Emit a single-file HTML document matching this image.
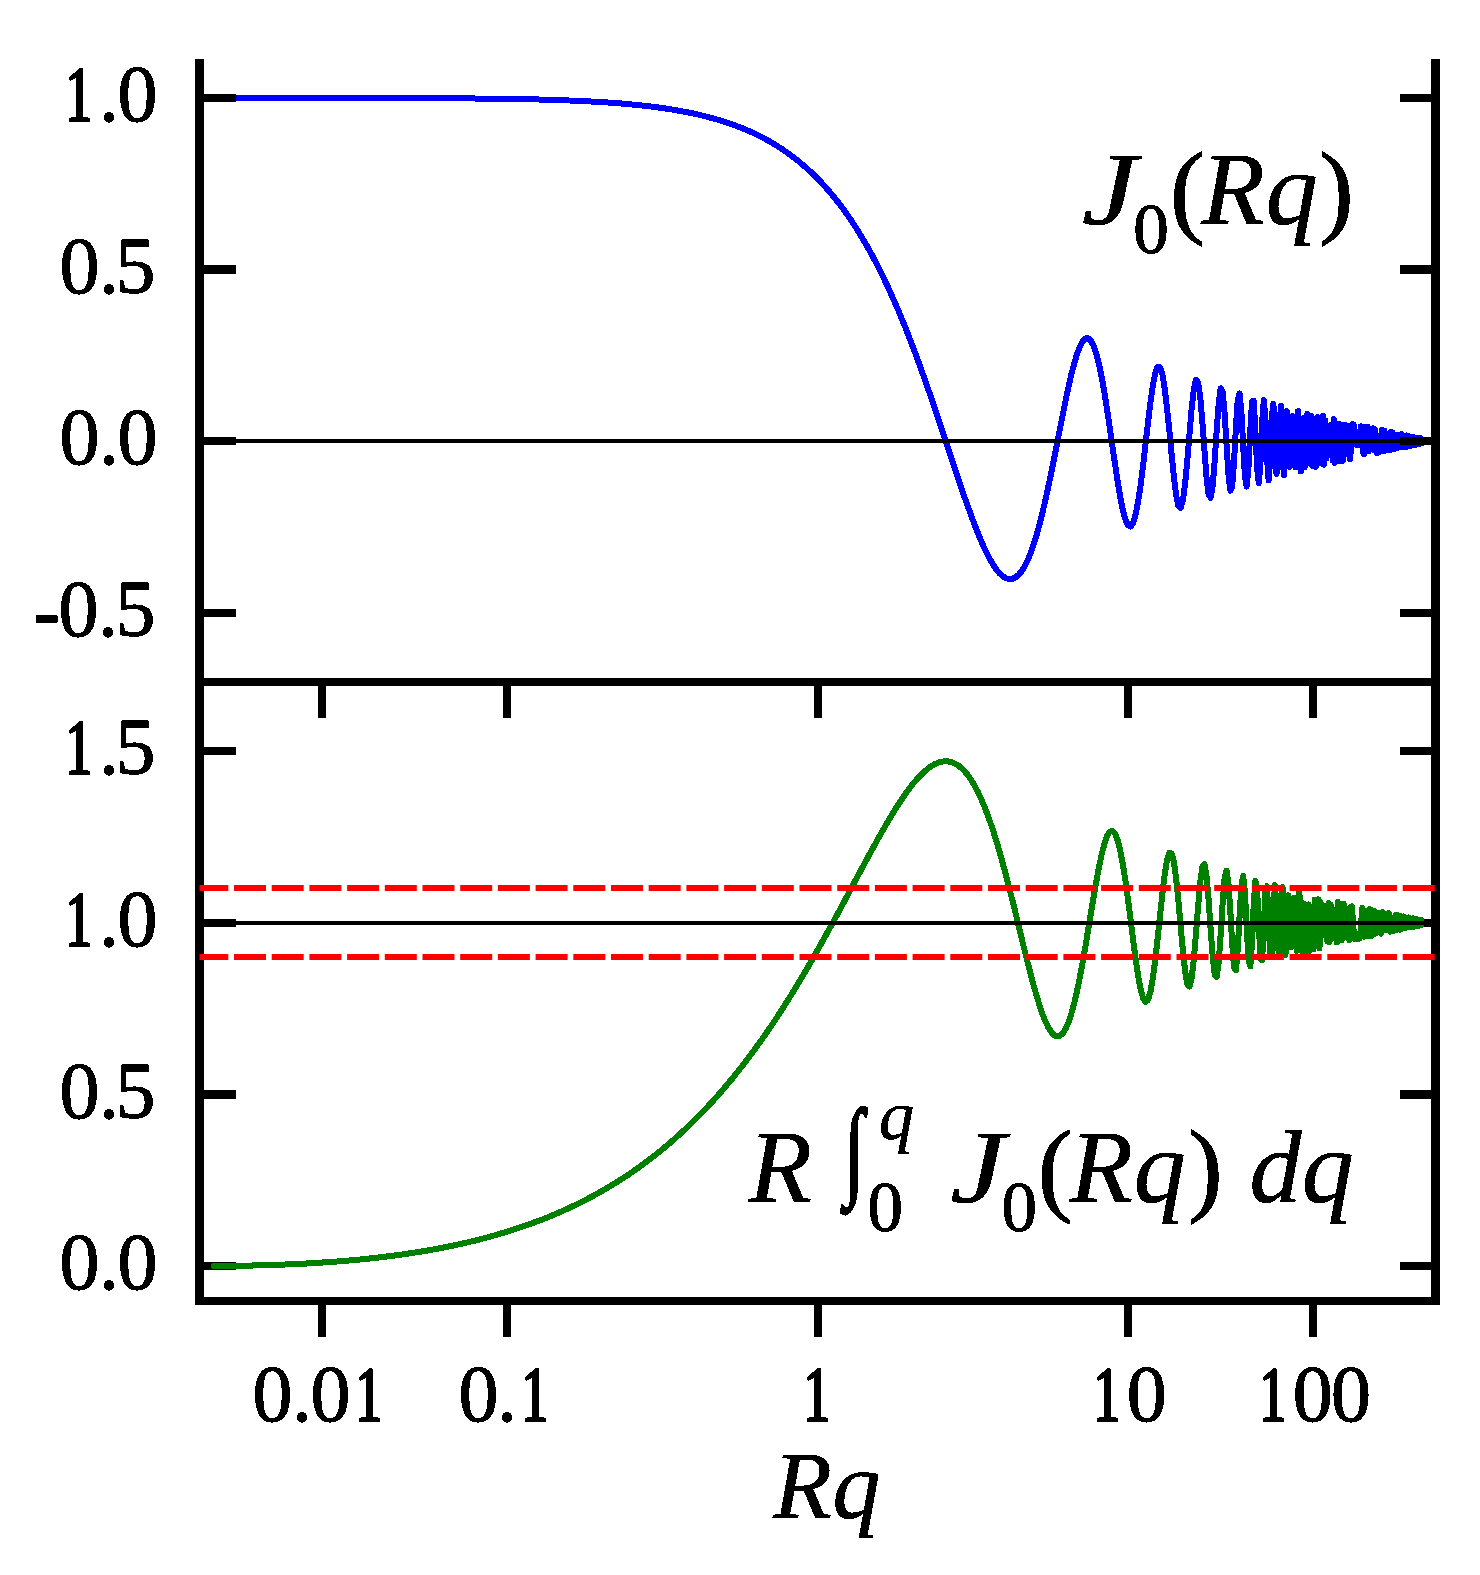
<!DOCTYPE html>
<html><head><meta charset="utf-8"><title>J0(Rq) and its integral</title>
<style>
html,body{margin:0;padding:0;background:#fff;}
svg{display:block;}
text{font-family:"Liberation Serif",serif;font-size:80px;fill:#000;stroke:#000;stroke-width:1.0px;stroke-linejoin:round;}
</style></head><body>
<svg width="1480" height="1575" viewBox="0 0 1480 1575">
<rect width="1480" height="1575" fill="#fff"/>
<defs>
<filter id="bw" x="0" y="0" width="1480" height="1575" filterUnits="userSpaceOnUse" color-interpolation-filters="sRGB"><feComponentTransfer><feFuncA type="discrete" tableValues="0 0 1 1 1"/></feComponentTransfer></filter>
<clipPath id="c1"><rect x="199.5" y="59" width="1236" height="623"/></clipPath>
<clipPath id="c2"><rect x="199.5" y="682" width="1236" height="619"/></clipPath>
</defs>
<!-- top panel: J0 -->
<g clip-path="url(#c1)">
<path d="M213.8 98.0L213.9 98.0L214.1 98.0L214.3 98.0L214.4 98.0L214.6 98.0L214.8 98.0L214.9 98.0L215.1 98.0L215.3 98.0L215.5 98.0L215.6 98.0L215.8 98.0L216.0 98.0L216.2 98.0L216.4 98.0L216.6 98.0L216.8 98.0L217.0 98.0L217.2 98.0L217.4 98.0L217.6 98.0L217.8 98.0L218.0 98.0L218.2 98.0L218.4 98.0L218.6 98.0L218.8 98.0L219.0 98.0L219.2 98.0L219.5 98.0L219.7 98.0L219.9 98.0L220.1 98.0L220.4 98.0L220.6 98.0L220.8 98.0L221.1 98.0L221.3 98.0L221.6 98.0L221.8 98.0L222.1 98.0L222.3 98.0L222.6 98.0L222.8 98.0L223.1 98.0L223.3 98.0L223.6 98.0L223.9 98.0L224.1 98.0L224.4 98.0L224.7 98.0L225.0 98.0L225.3 98.0L225.5 98.0L225.8 98.0L226.1 98.0L226.4 98.0L226.7 98.0L227.0 98.0L227.3 98.0L227.6 98.0L227.9 98.0L228.2 98.0L228.6 98.0L228.9 98.0L229.2 98.0L229.5 98.0L229.9 98.0L230.2 98.0L230.5 98.0L230.9 98.0L231.2 98.0L231.6 98.0L231.9 98.0L232.3 98.0L232.6 98.0L233.0 98.0L233.4 98.0L233.7 98.0L234.1 98.0L234.5 98.0L234.9 98.0L235.3 98.0L235.7 98.0L236.0 98.0L236.4 98.0L236.8 98.0L237.3 98.0L237.7 98.0L238.1 98.0L238.5 98.0L238.9 98.0L239.4 98.0L239.8 98.0L240.2 98.0L240.7 98.0L241.1 98.0L241.6 98.0L242.0 98.0L242.5 98.0L243.0 98.0L243.4 98.0L243.9 98.0L244.4 98.0L244.9 98.0L245.4 98.0L245.8 98.0L246.3 98.0L246.9 98.0L247.4 98.0L247.9 98.0L248.4 98.0L248.9 98.0L249.5 98.0L250.0 98.0L250.5 98.0L251.1 98.0L251.6 98.0L252.2 98.0L252.8 98.0L253.3 98.0L253.9 98.0L254.5 98.0L255.1 98.0L255.7 98.0L256.3 98.0L256.9 98.0L257.5 98.0L258.1 98.0L258.7 98.0L259.4 98.0L260.0 98.0L260.6 98.0L261.3 98.0L262.0 98.0L262.6 98.0L263.3 98.0L264.0 98.0L264.6 98.0L265.3 98.0L266.0 98.0L266.7 98.0L267.4 98.0L268.2 98.0L268.9 98.0L269.6 98.0L270.4 98.0L271.1 98.0L271.9 98.0L272.6 98.0L273.4 98.0L274.2 98.0L274.9 98.0L275.7 98.0L276.5 98.0L277.3 98.0L278.2 98.0L279.0 98.0L279.8 98.0L280.6 98.0L281.5 98.0L282.3 98.0L283.2 98.0L284.1 98.0L285.0 98.0L285.8 98.0L286.7 98.0L287.6 98.0L288.6 98.0L289.5 98.0L290.4 98.0L291.3 98.0L292.3 98.0L293.3 98.0L294.2 98.0L295.2 98.0L296.2 98.0L297.2 98.0L298.2 98.0L299.2 98.0L300.2 98.0L301.2 98.0L302.3 98.0L303.3 98.0L304.4 98.0L305.5 98.0L306.5 98.0L307.6 98.0L308.7 98.0L309.8 98.0L311.0 98.0L312.1 98.0L313.2 98.0L314.4 98.0L315.5 98.0L316.7 98.0L317.9 98.0L319.1 98.0L320.3 98.0L321.5 98.0L322.7 98.0L323.9 98.0L325.2 98.0L326.4 98.0L327.7 98.0L329.0 98.0L330.3 98.0L331.6 98.0L332.9 98.0L334.2 98.0L335.6 98.0L336.9 98.0L338.3 98.0L339.6 98.0L341.0 98.0L342.4 98.0L343.8 98.0L345.2 98.0L346.7 98.0L348.1 98.0L349.6 98.0L351.0 98.0L352.5 98.0L354.0 98.0L355.5 98.0L357.0 98.0L358.5 98.0L360.1 98.0L361.6 98.0L363.2 98.0L364.8 98.0L366.4 98.0L368.0 98.0L369.6 98.0L371.2 98.0L372.9 98.0L374.5 98.0L376.2 98.0L377.9 98.1L379.6 98.1L381.3 98.1L383.0 98.1L384.7 98.1L386.5 98.1L388.3 98.1L390.0 98.1L391.8 98.1L393.6 98.1L395.4 98.1L397.3 98.1L399.1 98.1L401.0 98.1L402.8 98.1L404.7 98.1L406.6 98.1L408.5 98.1L410.5 98.1L412.4 98.1L414.4 98.1L416.3 98.1L418.3 98.1L420.3 98.1L422.3 98.2L424.4 98.2L426.4 98.2L428.5 98.2L430.5 98.2L432.6 98.2L434.7 98.2L436.8 98.2L439.0 98.2L441.1 98.2L443.3 98.2L445.4 98.3L447.6 98.3L449.8 98.3L452.0 98.3L454.3 98.3L456.5 98.3L458.8 98.3L461.0 98.4L463.3 98.4L465.6 98.4L468.0 98.4L470.3 98.4L472.6 98.4L475.0 98.5L477.4 98.5L479.8 98.5L482.2 98.5L484.6 98.6L487.0 98.6L489.5 98.6L491.9 98.7L494.4 98.7L496.9 98.7L499.4 98.7L501.9 98.8L504.4 98.8L507.0 98.9L509.5 98.9L512.1 98.9L514.7 99.0L517.3 99.0L519.9 99.1L522.6 99.1L525.2 99.2L527.9 99.2L530.5 99.3L533.2 99.4L535.9 99.4L538.6 99.5L541.4 99.6L544.1 99.6L546.9 99.7L549.6 99.8L552.4 99.9L555.2 100.0L558.0 100.1L560.8 100.2L563.7 100.3L566.5 100.4L569.4 100.5L572.2 100.6L575.1 100.7L578.0 100.8L580.9 101.0L583.8 101.1L586.8 101.3L589.7 101.4L592.7 101.6L595.6 101.7L598.6 101.9L601.6 102.1L604.6 102.3L607.6 102.5L610.7 102.7L613.7 102.9L616.8 103.1L619.8 103.4L622.9 103.6L626.0 103.9L629.1 104.2L632.2 104.5L635.3 104.8L638.4 105.1L641.5 105.4L644.7 105.8L647.8 106.1L651.0 106.5L654.2 106.9L657.3 107.3L660.5 107.8L663.7 108.2L666.9 108.7L670.2 109.2L673.4 109.7L676.6 110.3L679.9 110.9L683.1 111.5L686.4 112.1L689.6 112.7L692.9 113.4L696.2 114.1L699.5 114.9L702.8 115.7L706.1 116.5L709.4 117.4L712.7 118.3L716.0 119.2L719.3 120.2L722.7 121.2L726.0 122.3L729.3 123.4L732.7 124.6L736.0 125.8L739.4 127.1L742.8 128.4L746.1 129.8L749.5 131.3L752.9 132.8L756.2 134.4L759.6 136.1L763.0 137.8L766.4 139.6L769.8 141.5L773.2 143.5L776.6 145.6L780.0 147.8L783.4 150.0L786.8 152.4L790.2 154.8L793.6 157.4L797.0 160.0L800.4 162.8L803.8 165.7L807.3 168.7L810.7 171.9L814.1 175.1L817.5 178.5L820.9 182.1L824.3 185.8L827.7 189.6L831.2 193.6L834.6 197.8L838.0 202.1L841.4 206.5L844.8 211.2L848.2 216.0L851.6 221.0L855.0 226.2L858.4 231.6L861.8 237.2L865.2 242.9L868.6 248.9L872.0 255.1L875.4 261.5L878.8 268.0L882.1 274.8L885.5 281.8L888.9 289.1L892.2 296.5L895.6 304.1L899.0 312.0L902.3 320.1L905.7 328.3L909.0 336.8L912.3 345.4L915.7 354.3L919.0 363.3L922.3 372.4L925.6 381.8L928.9 391.2L932.2 400.8L935.5 410.5L938.8 420.3L942.1 430.1L945.4 439.9L948.6 449.8L951.9 459.6L955.1 469.4L958.4 479.0L961.6 488.6L964.8 497.9L968.1 507.0L971.3 515.9L974.5 524.4L977.7 532.5L980.8 540.2L984.0 547.3L987.2 554.0L990.3 559.9L993.5 565.2L996.6 569.8L999.7 573.5L1002.8 576.3L1005.9 578.2L1009.0 579.1L1012.1 578.9L1015.2 577.6L1018.2 575.2L1021.3 571.6L1024.3 566.8L1027.4 560.8L1030.4 553.5L1033.4 545.1L1036.4 535.5L1039.4 524.9L1042.3 513.2L1045.3 500.6L1048.2 487.2L1051.2 473.2L1054.1 458.7L1057.0 443.9L1059.9 429.1L1062.8 414.5L1065.6 400.3L1068.5 386.9L1071.3 374.6L1074.2 363.6L1077.0 354.2L1079.8 346.7L1082.6 341.4L1085.4 338.5L1088.1 338.3L1090.9 340.7L1093.6 345.9L1096.4 353.9L1099.1 364.6L1101.8 377.6L1104.5 392.8L1107.1 409.7L1109.8 427.7L1112.4 446.2L1115.1 464.5L1117.7 481.8L1120.3 497.3L1122.9 510.2L1125.5 519.8L1128.0 525.4L1130.6 526.5L1133.1 522.9L1135.6 514.6L1138.1 501.8L1140.6 485.2L1143.1 465.6L1145.5 444.4L1148.0 422.9L1150.4 402.8L1152.8 385.8L1155.2 373.4L1157.6 366.8L1160.0 367.1L1162.4 374.5L1164.7 388.5L1167.0 408.0L1169.4 431.1L1171.7 455.3L1174.0 477.8L1176.2 495.6L1178.5 506.2L1180.7 507.9L1183.0 499.8L1185.2 482.9L1187.4 459.5L1189.6 432.9L1191.7 407.9L1193.9 388.8L1196.0 379.7L1198.2 382.7L1200.3 397.8L1202.4 422.2L1204.5 450.9L1206.5 477.2L1208.6 494.4L1210.6 497.7L1212.7 485.6L1214.7 460.9L1216.7 430.3L1218.7 403.1L1220.6 388.3L1222.6 391.4L1224.5 412.2L1226.5 443.5L1228.4 473.8L1230.3 490.7L1232.2 486.4L1234.0 462.0L1235.9 427.9L1237.7 400.4L1239.6 393.5L1241.4 411.7L1243.2 446.1L1245.0 477.3L1246.7 486.5L1248.5 467.0L1250.3 430.5L1252.0 401.4L1253.7 400.9L1255.4 430.4L1257.1 467.9L1258.8 483.3L1260.5 462.6L1262.1 422.9L1263.8 400.3L1265.4 417.1L1267.0 457.8L1268.6 480.5L1270.2 459.9L1271.8 418.0L1273.4 403.8L1274.9 435.6L1276.5 473.9L1278.0 467.8L1279.5 424.5L1281.0 405.7L1282.5 440.2L1284.0 475.4L1285.4 454.2L1286.9 411.2L1288.3 421.1L1289.8 466.9L1291.2 463.0L1292.6 416.2L1294.0 420.6L1295.4 467.5L1296.7 455.8L1298.1 411.2L1299.4 436.9L1300.8 471.5L1302.1 429.6L1303.4 418.2L1304.7 467.1L1306.0 443.5L1307.3 414.0L1308.6 463.1L1309.8 444.9L1311.1 416.0L1312.3 465.9L1313.5 434.1L1314.7 426.7L1315.9 466.9L1317.1 417.2L1318.3 453.0L1319.5 443.9L1320.6 425.8L1321.8 463.6L1322.9 416.1L1324.0 464.7L1325.2 420.3L1326.3 458.4L1327.4 426.3L1328.5 454.2L1329.5 428.0L1330.6 455.2L1331.7 424.4L1332.7 460.4L1333.8 419.3L1334.8 462.7L1335.8 423.4L1336.8 449.3L1337.8 446.0L1338.8 423.8L1339.8 461.3L1340.8 431.9L1341.7 430.5L1342.7 461.0L1343.7 435.0L1344.6 424.6L1345.5 454.2L1346.4 454.1L1347.4 427.8L1348.3 425.7L1349.2 447.4L1350.0 459.3L1350.9 450.2L1351.8 433.8L1352.7 424.3L1353.5 424.6L1354.4 430.6L1355.2 437.4L1356.0 442.4L1356.8 444.9L1357.7 445.1L1358.5 443.0L1359.3 438.4L1360.1 432.1L1360.8 426.4L1361.6 426.5L1362.4 436.6L1363.1 451.9L1363.9 454.4L1364.6 436.1L1365.4 427.3L1366.1 449.2L1366.8 448.6L1367.6 426.8L1368.3 451.5L1369.0 437.3L1369.7 439.8L1370.4 444.2L1371.0 438.6L1371.7 439.6L1372.4 448.6L1373.0 428.3L1373.7 450.2L1374.4 446.2L1375.0 429.1L1375.6 435.3L1376.3 448.7L1376.9 453.1L1377.5 450.7L1378.1 447.7L1378.7 447.1L1379.3 449.1L1379.9 452.0L1380.5 450.4L1381.1 439.2L1381.7 430.0L1382.2 444.0L1382.8 448.2L1383.4 430.5L1383.9 451.4L1384.5 430.7L1385.0 450.8L1385.5 436.2L1386.1 434.7L1386.6 448.8L1387.1 449.6L1387.6 443.8L1388.1 440.5L1388.7 441.3L1389.2 445.9L1389.6 450.3L1390.1 442.6L1390.6 432.1L1391.1 448.5L1391.6 435.1L1392.0 448.3L1392.5 432.5L1393.0 441.7L1393.4 449.3L1393.9 448.1L1394.3 447.2L1394.8 448.8L1395.2 447.2L1395.6 435.7L1396.1 439.6L1396.5 444.4L1396.9 440.5L1397.3 434.7L1397.7 444.1L1398.2 447.8L1398.6 447.7L1399.0 443.8L1399.3 434.6L1399.7 442.4L1400.1 440.3L1400.5 446.0L1400.9 435.9L1401.3 434.2L1401.6 434.3L1402.0 437.4L1402.4 447.3L1402.7 435.8L1403.1 447.4L1403.4 440.4L1403.8 437.0L1404.1 439.2L1404.5 446.6L1404.8 438.2L1405.1 445.8L1405.5 437.3L1405.8 435.7L1406.1 438.5L1406.4 446.7L1406.8 435.4L1407.1 444.0L1407.4 446.2L1407.7 444.1L1408.0 435.7L1408.3 446.3L1408.6 440.9L1408.9 440.2L1409.2 445.7L1409.5 437.2L1409.7 445.5L1410.0 446.0L1410.3 442.2L1410.6 438.6L1410.9 437.3L1411.1 437.4L1411.4 438.5L1411.7 441.8L1411.9 445.1L1412.2 441.5L1412.4 439.4L1412.7 436.7L1412.9 436.9L1413.2 445.3L1413.4 440.8L1413.7 443.3L1413.9 439.8L1414.2 444.2L1414.4 439.9L1414.6 443.4L1414.9 442.2L1415.1 443.6L1415.3 443.9L1415.5 444.7L1415.8 438.2L1416.0 438.4L1416.2 444.2L1416.4 444.7L1416.6 438.5L1416.8 441.8L1417.0 437.6L1417.2 438.5L1417.4 440.3L1417.6 437.9L1417.8 444.3L1418.0 443.7L1418.2 438.4L1418.4 437.8L1418.6 443.6L1418.8 439.1L1419.0 441.9L1419.2 439.8L1419.4 442.2L1419.5 438.4L1419.7 444.0L1419.9 442.5L1420.1 444.0L1420.2 438.3L1420.4 442.6L1420.6 443.2L1420.7 440.0L1420.9 440.3L1421.1 440.1L1421.2 443.4" fill="none" stroke="#0000ff" stroke-width="6" stroke-linejoin="round" stroke-linecap="round" shape-rendering="crispEdges"/>
<line x1="199.5" x2="1435.5" y1="441" y2="441" stroke="#000" stroke-width="4"/>
</g>
<g fill="#000">
<path d="M204 94H236V102H204ZM1400 94H1431V102H1400Z"/>
<path d="M204 265H236V274H204ZM1400 265H1431V274H1400Z"/>
<path d="M204 437H236V445H204ZM1400 437H1431V445H1400Z"/>
<path d="M204 609H236V617H204ZM1400 609H1431V617H1400Z"/>
<path d="M204 747H236V755H204ZM1400 747H1431V755H1400Z"/>
<path d="M204 919H236V927H204ZM1400 919H1431V927H1400Z"/>
<path d="M204 1090H236V1099H204ZM1400 1090H1431V1099H1400Z"/>
<path d="M204 1262H236V1270H204ZM1400 1262H1431V1270H1400Z"/>
</g>
<!-- bottom panel: integral -->
<g clip-path="url(#c2)">
<path d="M213.8 1266.0L213.9 1266.0L214.1 1266.0L214.3 1266.0L214.4 1266.0L214.6 1266.0L214.8 1266.0L214.9 1266.0L215.1 1266.0L215.3 1266.0L215.5 1266.0L215.6 1266.0L215.8 1266.0L216.0 1266.0L216.2 1266.0L216.4 1266.0L216.6 1266.0L216.8 1265.9L217.0 1265.9L217.2 1265.9L217.4 1265.9L217.6 1265.9L217.8 1265.9L218.0 1265.9L218.2 1265.9L218.4 1265.9L218.6 1265.9L218.8 1265.9L219.0 1265.9L219.2 1265.9L219.5 1265.9L219.7 1265.9L219.9 1265.9L220.1 1265.9L220.4 1265.9L220.6 1265.9L220.8 1265.9L221.1 1265.9L221.3 1265.9L221.6 1265.9L221.8 1265.9L222.1 1265.9L222.3 1265.9L222.6 1265.9L222.8 1265.9L223.1 1265.9L223.3 1265.9L223.6 1265.9L223.9 1265.9L224.1 1265.9L224.4 1265.9L224.7 1265.9L225.0 1265.9L225.3 1265.9L225.5 1265.9L225.8 1265.9L226.1 1265.9L226.4 1265.9L226.7 1265.9L227.0 1265.9L227.3 1265.9L227.6 1265.9L227.9 1265.9L228.2 1265.9L228.6 1265.9L228.9 1265.8L229.2 1265.8L229.5 1265.8L229.9 1265.8L230.2 1265.8L230.5 1265.8L230.9 1265.8L231.2 1265.8L231.6 1265.8L231.9 1265.8L232.3 1265.8L232.6 1265.8L233.0 1265.8L233.4 1265.8L233.7 1265.8L234.1 1265.8L234.5 1265.8L234.9 1265.8L235.3 1265.8L235.7 1265.8L236.0 1265.8L236.4 1265.8L236.8 1265.7L237.3 1265.7L237.7 1265.7L238.1 1265.7L238.5 1265.7L238.9 1265.7L239.4 1265.7L239.8 1265.7L240.2 1265.7L240.7 1265.7L241.1 1265.7L241.6 1265.7L242.0 1265.7L242.5 1265.7L243.0 1265.6L243.4 1265.6L243.9 1265.6L244.4 1265.6L244.9 1265.6L245.4 1265.6L245.8 1265.6L246.3 1265.6L246.9 1265.6L247.4 1265.6L247.9 1265.6L248.4 1265.5L248.9 1265.5L249.5 1265.5L250.0 1265.5L250.5 1265.5L251.1 1265.5L251.6 1265.5L252.2 1265.5L252.8 1265.5L253.3 1265.4L253.9 1265.4L254.5 1265.4L255.1 1265.4L255.7 1265.4L256.3 1265.4L256.9 1265.4L257.5 1265.3L258.1 1265.3L258.7 1265.3L259.4 1265.3L260.0 1265.3L260.6 1265.3L261.3 1265.2L262.0 1265.2L262.6 1265.2L263.3 1265.2L264.0 1265.2L264.6 1265.2L265.3 1265.1L266.0 1265.1L266.7 1265.1L267.4 1265.1L268.2 1265.1L268.9 1265.0L269.6 1265.0L270.4 1265.0L271.1 1265.0L271.9 1264.9L272.6 1264.9L273.4 1264.9L274.2 1264.9L274.9 1264.8L275.7 1264.8L276.5 1264.8L277.3 1264.8L278.2 1264.7L279.0 1264.7L279.8 1264.7L280.6 1264.6L281.5 1264.6L282.3 1264.6L283.2 1264.5L284.1 1264.5L285.0 1264.5L285.8 1264.4L286.7 1264.4L287.6 1264.4L288.6 1264.3L289.5 1264.3L290.4 1264.2L291.3 1264.2L292.3 1264.2L293.3 1264.1L294.2 1264.1L295.2 1264.0L296.2 1264.0L297.2 1263.9L298.2 1263.9L299.2 1263.8L300.2 1263.8L301.2 1263.7L302.3 1263.7L303.3 1263.6L304.4 1263.6L305.5 1263.5L306.5 1263.5L307.6 1263.4L308.7 1263.3L309.8 1263.3L311.0 1263.2L312.1 1263.1L313.2 1263.1L314.4 1263.0L315.5 1262.9L316.7 1262.9L317.9 1262.8L319.1 1262.7L320.3 1262.6L321.5 1262.6L322.7 1262.5L323.9 1262.4L325.2 1262.3L326.4 1262.2L327.7 1262.1L329.0 1262.1L330.3 1262.0L331.6 1261.9L332.9 1261.8L334.2 1261.7L335.6 1261.6L336.9 1261.5L338.3 1261.4L339.6 1261.3L341.0 1261.2L342.4 1261.0L343.8 1260.9L345.2 1260.8L346.7 1260.7L348.1 1260.6L349.6 1260.4L351.0 1260.3L352.5 1260.2L354.0 1260.0L355.5 1259.9L357.0 1259.8L358.5 1259.6L360.1 1259.5L361.6 1259.3L363.2 1259.2L364.8 1259.0L366.4 1258.8L368.0 1258.7L369.6 1258.5L371.2 1258.3L372.9 1258.1L374.5 1258.0L376.2 1257.8L377.9 1257.6L379.6 1257.4L381.3 1257.2L383.0 1257.0L384.7 1256.8L386.5 1256.5L388.3 1256.3L390.0 1256.1L391.8 1255.9L393.6 1255.6L395.4 1255.4L397.3 1255.1L399.1 1254.9L401.0 1254.6L402.8 1254.4L404.7 1254.1L406.6 1253.8L408.5 1253.5L410.5 1253.2L412.4 1252.9L414.4 1252.6L416.3 1252.3L418.3 1252.0L420.3 1251.7L422.3 1251.4L424.4 1251.0L426.4 1250.7L428.5 1250.3L430.5 1249.9L432.6 1249.6L434.7 1249.2L436.8 1248.8L439.0 1248.4L441.1 1248.0L443.3 1247.6L445.4 1247.1L447.6 1246.7L449.8 1246.3L452.0 1245.8L454.3 1245.3L456.5 1244.8L458.8 1244.3L461.0 1243.8L463.3 1243.3L465.6 1242.8L468.0 1242.3L470.3 1241.7L472.6 1241.1L475.0 1240.6L477.4 1240.0L479.8 1239.4L482.2 1238.7L484.6 1238.1L487.0 1237.5L489.5 1236.8L491.9 1236.1L494.4 1235.4L496.9 1234.7L499.4 1234.0L501.9 1233.2L504.4 1232.5L507.0 1231.7L509.5 1230.9L512.1 1230.1L514.7 1229.2L517.3 1228.4L519.9 1227.5L522.6 1226.6L525.2 1225.7L527.9 1224.8L530.5 1223.8L533.2 1222.8L535.9 1221.8L538.6 1220.8L541.4 1219.8L544.1 1218.7L546.9 1217.6L549.6 1216.5L552.4 1215.3L555.2 1214.1L558.0 1212.9L560.8 1211.7L563.7 1210.4L566.5 1209.2L569.4 1207.8L572.2 1206.5L575.1 1205.1L578.0 1203.7L580.9 1202.3L583.8 1200.8L586.8 1199.3L589.7 1197.7L592.7 1196.2L595.6 1194.5L598.6 1192.9L601.6 1191.2L604.6 1189.5L607.6 1187.7L610.7 1185.9L613.7 1184.0L616.8 1182.2L619.8 1180.2L622.9 1178.2L626.0 1176.2L629.1 1174.2L632.2 1172.0L635.3 1169.9L638.4 1167.7L641.5 1165.4L644.7 1163.1L647.8 1160.8L651.0 1158.3L654.2 1155.9L657.3 1153.4L660.5 1150.8L663.7 1148.2L666.9 1145.5L670.2 1142.7L673.4 1139.9L676.6 1137.0L679.9 1134.1L683.1 1131.1L686.4 1128.1L689.6 1124.9L692.9 1121.8L696.2 1118.5L699.5 1115.2L702.8 1111.8L706.1 1108.3L709.4 1104.8L712.7 1101.2L716.0 1097.5L719.3 1093.8L722.7 1089.9L726.0 1086.0L729.3 1082.0L732.7 1078.0L736.0 1073.8L739.4 1069.6L742.8 1065.3L746.1 1060.9L749.5 1056.5L752.9 1051.9L756.2 1047.3L759.6 1042.6L763.0 1037.8L766.4 1032.9L769.8 1028.0L773.2 1022.9L776.6 1017.8L780.0 1012.6L783.4 1007.3L786.8 1001.9L790.2 996.5L793.6 991.0L797.0 985.4L800.4 979.7L803.8 973.9L807.3 968.1L810.7 962.2L814.1 956.3L817.5 950.3L820.9 944.2L824.3 938.0L827.7 931.9L831.2 925.6L834.6 919.4L838.0 913.1L841.4 906.7L844.8 900.4L848.2 894.0L851.6 887.6L855.0 881.2L858.4 874.9L861.8 868.5L865.2 862.2L868.6 855.9L872.0 849.7L875.4 843.5L878.8 837.4L882.1 831.5L885.5 825.6L888.9 819.8L892.2 814.2L895.6 808.8L899.0 803.5L902.3 798.5L905.7 793.6L909.0 789.0L912.3 784.7L915.7 780.6L919.0 776.9L922.3 773.5L925.6 770.5L928.9 767.8L932.2 765.6L935.5 763.8L938.8 762.4L942.1 761.6L945.4 761.2L948.6 761.5L951.9 762.3L955.1 763.6L958.4 765.6L961.6 768.2L964.8 771.5L968.1 775.5L971.3 780.1L974.5 785.4L977.7 791.5L980.8 798.2L984.0 805.6L987.2 813.7L990.3 822.4L993.5 831.8L996.6 841.8L999.7 852.4L1002.8 863.5L1005.9 875.0L1009.0 886.9L1012.1 899.2L1015.2 911.6L1018.2 924.2L1021.3 936.8L1024.3 949.3L1027.4 961.5L1030.4 973.3L1033.4 984.6L1036.4 995.2L1039.4 1004.9L1042.3 1013.6L1045.3 1021.1L1048.2 1027.3L1051.2 1032.0L1054.1 1035.1L1057.0 1036.3L1059.9 1035.8L1062.8 1033.2L1065.6 1028.7L1068.5 1022.2L1071.3 1013.7L1074.2 1003.4L1077.0 991.2L1079.8 977.6L1082.6 962.6L1085.4 946.7L1088.1 930.1L1090.9 913.3L1093.6 896.8L1096.4 881.0L1099.1 866.5L1101.8 853.8L1104.5 843.5L1107.1 835.9L1109.8 831.6L1112.4 830.8L1115.1 833.7L1117.7 840.4L1120.3 850.8L1122.9 864.5L1125.5 881.0L1128.0 899.7L1130.6 919.6L1133.1 939.6L1135.6 958.7L1138.1 975.6L1140.6 989.1L1143.1 998.1L1145.5 1001.9L1148.0 999.9L1150.4 991.9L1152.8 978.4L1155.2 960.2L1157.6 938.8L1160.0 915.9L1162.4 893.6L1164.7 874.3L1167.0 860.1L1169.4 852.8L1171.7 853.6L1174.0 862.7L1176.2 879.4L1178.5 901.8L1180.7 927.1L1183.0 951.7L1185.2 971.9L1187.4 984.3L1189.6 986.4L1191.7 977.6L1193.9 958.7L1196.0 933.1L1198.2 905.4L1200.3 881.4L1202.4 866.4L1204.5 864.2L1206.5 875.9L1208.6 899.3L1210.6 928.7L1212.7 956.4L1214.7 974.5L1216.7 977.1L1218.7 962.8L1220.6 935.4L1222.6 903.9L1224.5 879.1L1226.5 870.6L1228.4 882.4L1230.3 910.5L1232.2 943.8L1234.0 967.5L1235.9 970.4L1237.7 950.1L1239.6 916.0L1241.4 885.6L1243.2 875.9L1245.0 893.2L1246.7 928.2L1248.5 959.6L1250.3 966.5L1252.0 943.3L1253.7 905.4L1255.4 880.8L1257.1 889.0L1258.8 924.6L1260.5 958.4L1262.1 960.2L1263.8 927.3L1265.4 890.3L1267.0 886.2L1268.6 920.4L1270.2 956.8L1271.8 954.0L1273.4 914.2L1274.9 885.3L1276.5 904.8L1278.0 947.9L1279.5 955.4L1281.0 915.6L1282.5 887.0L1284.0 914.7L1285.4 954.9L1286.9 940.2L1288.3 895.2L1289.8 901.0L1291.2 947.5L1292.6 944.6L1294.0 897.5L1295.4 904.3L1296.7 950.8L1298.1 933.0L1299.4 891.9L1300.8 925.8L1302.1 950.9L1303.4 903.3L1304.7 908.4L1306.0 951.9L1307.3 912.3L1308.6 904.3L1309.8 950.8L1311.1 910.3L1312.3 910.5L1313.5 949.2L1314.7 899.8L1315.9 929.3L1317.1 934.3L1318.3 899.4L1319.5 948.4L1320.6 902.3L1321.8 933.9L1322.9 921.3L1324.0 915.7L1325.2 935.7L1326.3 905.9L1327.4 941.6L1328.5 903.1L1329.5 942.1L1330.6 904.5L1331.7 938.4L1332.7 911.2L1333.8 927.8L1334.8 926.1L1335.8 910.1L1336.8 942.5L1337.8 902.0L1338.8 934.8L1339.8 926.9L1340.8 904.3L1341.7 940.1L1342.7 924.0L1343.7 903.8L1344.6 933.5L1345.5 936.8L1346.4 908.7L1347.4 909.2L1348.3 933.6L1349.2 940.1L1350.0 923.3L1350.9 907.1L1351.8 906.3L1352.7 916.9L1353.5 928.9L1354.4 936.5L1355.2 939.4L1356.0 939.5L1356.8 938.9L1357.7 938.7L1358.5 938.9L1359.3 938.6L1360.1 935.9L1360.8 928.6L1361.6 917.1L1362.4 907.9L1363.1 912.0L1363.9 929.6L1364.6 936.7L1365.4 917.3L1366.1 910.7L1366.8 934.9L1367.6 922.1L1368.3 913.3L1369.0 936.1L1369.7 909.0L1370.4 935.9L1371.0 909.5L1371.7 935.9L1372.4 912.0L1373.0 925.4L1373.7 931.6L1374.4 911.1L1375.0 918.7L1375.6 933.7L1376.3 932.2L1376.9 922.6L1377.5 915.7L1378.1 913.0L1378.7 912.7L1379.3 914.5L1379.9 919.8L1380.5 928.9L1381.1 933.7L1381.7 922.1L1382.2 912.2L1382.8 930.7L1383.4 920.9L1383.9 921.2L1384.5 923.8L1385.0 925.8L1385.5 913.7L1386.1 930.5L1386.6 928.9L1387.1 917.9L1387.6 913.4L1388.1 913.1L1388.7 913.2L1389.2 914.7L1389.6 922.3L1390.1 931.7L1390.6 921.2L1391.1 917.8L1391.6 929.3L1392.0 917.9L1392.5 921.1L1393.0 931.2L1393.4 924.3L1393.9 918.3L1394.3 917.2L1394.8 920.2L1395.2 927.8L1395.6 928.7L1396.1 914.9L1396.5 929.7L1396.9 915.0L1397.3 926.9L1397.7 929.6L1398.2 925.8L1398.6 925.8L1399.0 929.4L1399.3 926.0L1399.7 915.7L1400.1 929.7L1400.5 917.8L1400.9 918.0L1401.3 923.0L1401.6 922.4L1402.0 917.1L1402.4 920.8L1402.7 926.6L1403.1 922.3L1403.4 916.4L1403.8 917.9L1404.1 916.8L1404.5 920.1L1404.8 928.1L1405.1 919.1L1405.5 918.1L1405.8 920.3L1406.1 917.5L1406.4 921.9L1406.8 923.7L1407.1 927.4L1407.4 924.5L1407.7 927.2L1408.0 923.8L1408.3 922.5L1408.6 917.4L1408.9 917.5L1409.2 920.6L1409.5 926.1L1409.7 925.0L1410.0 923.2L1410.3 927.5L1410.6 918.5L1410.9 925.8L1411.1 925.8L1411.4 918.7L1411.7 927.3L1411.9 924.9L1412.2 927.2L1412.4 918.5L1412.7 923.7L1412.9 921.1L1413.2 922.2L1413.4 918.4L1413.7 919.2L1413.9 926.7L1414.2 925.4L1414.4 926.6L1414.6 919.5L1414.9 918.9L1415.1 925.7L1415.3 920.1L1415.5 923.6L1415.8 920.1L1416.0 919.9L1416.2 924.7L1416.4 922.6L1416.6 925.4L1416.8 926.2L1417.0 921.6L1417.2 925.1L1417.4 919.3L1417.6 921.1L1417.8 922.0L1418.0 920.7L1418.2 924.8L1418.4 923.6L1418.6 924.7L1418.8 925.3L1419.0 925.8L1419.2 919.8L1419.4 919.8L1419.5 921.1L1419.7 923.4L1419.9 925.3L1420.1 922.8L1420.2 921.7L1420.4 920.3L1420.6 920.8L1420.7 920.0L1420.9 925.4L1421.1 920.1L1421.2 921.4" fill="none" stroke="#008000" stroke-width="6" stroke-linejoin="round" stroke-linecap="round" shape-rendering="crispEdges"/>
</g>
<!-- axes -->
<g stroke="#000" stroke-width="8" fill="none">
<path d="M322 686V718M322 1305V1337"/>
<path d="M507 686V718M507 1305V1337"/>
<path d="M818 686V718M818 1305V1337"/>
<path d="M1128 686V718M1128 1305V1337"/>
<path d="M1313 686V718M1313 1305V1337"/>
<path d="M195 682H1440M195 1301H1440"/>
</g>
<path d="M199.5 59V1305M1435.5 59V1305" stroke="#000" stroke-width="9" fill="none"/>
<g clip-path="url(#c2)">
<line x1="199.5" x2="1435.5" y1="923" y2="923" stroke="#000" stroke-width="4"/>
<path d="M196.3 888H1480M196.3 957H1480" stroke="#ff0000" stroke-width="6" stroke-dasharray="32 5.7" fill="none"/>
</g>
<!-- labels -->
<g filter="url(#bw)">
<text><tspan x="65.4" y="120.0" font-size="78" style="stroke-width:2.4px" textLength="26.70" lengthAdjust="spacingAndGlyphs">1</tspan><tspan x="99.0" y="121.2">.</tspan><tspan x="117.6" y="121.2">0</tspan></text>
<text><tspan x="59.5" y="292.7">0</tspan><tspan x="99.0" y="292.7">.</tspan><tspan x="115.4" y="292.7">5</tspan></text>
<text><tspan x="59.5" y="464.2">0</tspan><tspan x="99.0" y="464.2">.</tspan><tspan x="117.6" y="464.2">0</tspan></text>
<text><tspan x="33.6" y="637.6">-</tspan><tspan x="58.5" y="636.2">0</tspan><tspan x="97.9" y="636.2">.</tspan><tspan x="115.4" y="636.2">5</tspan></text>
<text><tspan x="65.4" y="773.0" font-size="78" style="stroke-width:2.4px" textLength="26.70" lengthAdjust="spacingAndGlyphs">1</tspan><tspan x="99.0" y="774.2">.</tspan><tspan x="115.4" y="774.2">5</tspan></text>
<text><tspan x="65.4" y="945.0" font-size="78" style="stroke-width:2.4px" textLength="26.70" lengthAdjust="spacingAndGlyphs">1</tspan><tspan x="99.0" y="946.2">.</tspan><tspan x="117.6" y="946.2">0</tspan></text>
<text><tspan x="59.5" y="1117.7">0</tspan><tspan x="99.0" y="1117.7">.</tspan><tspan x="115.4" y="1117.7">5</tspan></text>
<text><tspan x="59.5" y="1289.2">0</tspan><tspan x="99.0" y="1289.2">.</tspan><tspan x="117.6" y="1289.2">0</tspan></text>
<text><tspan x="252.5" y="1421.0">0</tspan><tspan x="291.9" y="1421.0">.</tspan><tspan x="310.5" y="1421.0">0</tspan><tspan x="355.2" y="1419.8" font-size="78" style="stroke-width:2.4px" textLength="26.84" lengthAdjust="spacingAndGlyphs">1</tspan></text>
<text><tspan x="458.5" y="1421.0">0</tspan><tspan x="497.0" y="1421.0">.</tspan><tspan x="521.2" y="1419.8" font-size="78" style="stroke-width:2.4px" textLength="26.98" lengthAdjust="spacingAndGlyphs">1</tspan></text>
<text><tspan x="803.3" y="1419.8" font-size="78" style="stroke-width:2.4px" textLength="26.98" lengthAdjust="spacingAndGlyphs">1</tspan></text>
<text><tspan x="1093.3" y="1419.8" font-size="78" style="stroke-width:2.4px" textLength="26.70" lengthAdjust="spacingAndGlyphs">1</tspan><tspan x="1126.8" y="1421.0">0</tspan></text>
<text><tspan x="1259.3" y="1419.8" font-size="78" style="stroke-width:2.4px" textLength="26.84" lengthAdjust="spacingAndGlyphs">1</tspan><tspan x="1292.8" y="1421.0">0</tspan><tspan x="1331.0" y="1421.0">0</tspan></text>
<text><tspan x="773.2" y="1518.0" font-size="96" font-style="italic" style="stroke-width:0.4px">R</tspan><tspan x="832.6" y="1518.0" font-size="96" font-style="italic" style="stroke-width:0.4px">q</tspan></text>
<text><tspan x="1081.8" y="223.5" font-size="104" font-style="italic" style="stroke-width:0.4px" textLength="55.39" lengthAdjust="spacingAndGlyphs">J</tspan><tspan x="1133.3" y="252.5" font-size="71">0</tspan><tspan x="1169.9" y="223.5" font-size="104">(</tspan><tspan x="1201.3" y="223.5" font-size="104" font-style="italic" style="stroke-width:0.4px">R</tspan><tspan x="1265.7" y="223.5" font-size="104" font-style="italic" style="stroke-width:0.4px">q</tspan><tspan x="1319.0" y="223.5" font-size="104">)</tspan></text>
<text><tspan x="748.6" y="1201.6" font-size="104" font-style="italic" style="stroke-width:0.4px">R</tspan> <tspan x="844.5" y="1184.7" font-size="109" style="stroke-width:2.6px" textLength="19.40" lengthAdjust="spacingAndGlyphs">∫</tspan><tspan x="867.6" y="1230.6" font-size="71">0</tspan><tspan x="879.0" y="1139.4" font-size="70" font-style="italic" style="stroke-width:0.4px">q</tspan> <tspan x="949.9" y="1201.6" font-size="104" font-style="italic" style="stroke-width:0.4px" textLength="55.39" lengthAdjust="spacingAndGlyphs">J</tspan><tspan x="1001.6" y="1230.6" font-size="71">0</tspan><tspan x="1037.7" y="1201.6" font-size="104">(</tspan><tspan x="1069.6" y="1201.6" font-size="104" font-style="italic" style="stroke-width:0.4px">R</tspan><tspan x="1133.7" y="1201.6" font-size="104" font-style="italic" style="stroke-width:0.4px">q</tspan><tspan x="1187.9" y="1201.6" font-size="104">)</tspan> <tspan x="1249.6" y="1201.6" font-size="104" font-style="italic" style="stroke-width:0.4px">d</tspan><tspan x="1301.7" y="1201.6" font-size="104" font-style="italic" style="stroke-width:0.4px">q</tspan></text>
</g>
</svg>
</body></html>
